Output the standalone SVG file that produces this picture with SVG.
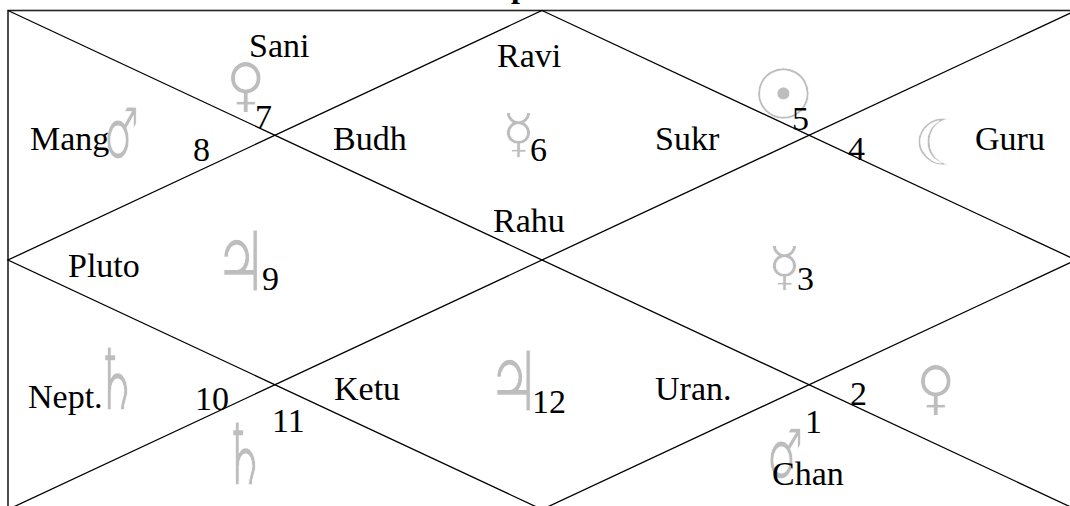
<svg xmlns="http://www.w3.org/2000/svg" width="1070" height="506" viewBox="0 0 1070 506">
<style>
.ln{stroke:#000;stroke-width:1.3;fill:none}
.bd{stroke:#222;stroke-width:1.6;fill:none}
.t{font-family:"Liberation Serif","Times New Roman",serif;font-size:34px;fill:#000}
.ttl{font-family:"Liberation Serif","Times New Roman",serif;font-size:32px;font-weight:bold;fill:#000}
.g{font-family:"DejaVu Sans",sans-serif;font-size:54px;fill:#bdbdbd;stroke:#fff;stroke-width:0.8}
.gb{font-family:"DejaVu Sans",sans-serif;font-size:64px;fill:#bdbdbd;stroke:#fff;stroke-width:0.6}
</style>
<rect width="1070" height="506" fill="#fff"/>
<text class="ttl" x="511" y="-3">p</text>
<g id="house7">
<text class="g" transform="translate(226,105) scale(1,1.1)">♀</text>
<text class="t" x="249" y="57">Sani</text>
<text class="t" x="255" y="128">7</text>
</g>
<g id="house8">
<text class="g" transform="translate(104,158) scale(0.72,1.32)">♂</text>
<text class="t" x="30" y="150">Mang</text>
<text class="t" x="193" y="161">8</text>
</g>
<g id="house6">
<text class="g" x="502" y="152">☿</text>
<text class="t" x="497" y="67">Ravi</text>
<text class="t" x="333" y="150">Budh</text>
<text class="t" x="530" y="161">6</text>
</g>
<g id="house5">
<text class="gb" style="font-size:70px" x="752" y="119">☉</text>
<text class="t" x="655" y="150">Sukr</text>
<text class="t" x="792" y="130">5</text>
</g>
<g id="house4">
<text class="gb" x="913" y="165">☾</text>
<text class="t" x="848" y="160">4</text>
<text class="t" x="975" y="150">Guru</text>
</g>
<g id="house9">
<text class="g" transform="translate(214,291) scale(1.1,1.55)">♃</text>
<text class="t" x="68" y="277">Pluto</text>
<text class="t" x="262" y="290">9</text>
</g>
<g id="house1center">
<text class="t" x="493" y="232">Rahu</text>
</g>
<g id="house3">
<text class="g" x="768" y="285">☿</text>
<text class="t" x="797" y="290">3</text>
</g>
<g id="house10">
<text class="g" transform="translate(94,410) scale(0.92,1.6)">♄</text>
<text class="t" x="28" y="408">Nept.</text>
<text class="t" x="195" y="410">10</text>
</g>
<g id="house11">
<text class="g" transform="translate(222,485) scale(0.92,1.6)">♄</text>
<text class="t" x="272" y="432">11</text>
</g>
<g id="house12">
<text class="g" transform="translate(487,411) scale(1.1,1.55)">♃</text>
<text class="t" x="334" y="400">Ketu</text>
<text class="t" x="532" y="413">12</text>
</g>
<g id="house1">
<text class="g" transform="translate(767,478) scale(0.75,1.28)">♂</text>
<text class="t" x="655" y="400">Uran.</text>
<text class="t" x="805" y="433">1</text>
<text class="t" x="772" y="485">Chan</text>
</g>
<g id="house2">
<text class="g" transform="translate(916,408) scale(1,1.1)">♀</text>
<text class="t" x="850" y="405">2</text>
</g>
<g id="connectors">
<rect class="bd" x="8" y="10.5" width="1068" height="499"/>
<line class="ln" x1="8" y1="10.5" x2="1076" y2="509.5"/>
<line class="ln" x1="1076" y1="10.5" x2="8" y2="509.5"/>
<polygon class="ln" points="542,10.5 1076,260 542,509.5 8,260"/>
</g>
</svg>
